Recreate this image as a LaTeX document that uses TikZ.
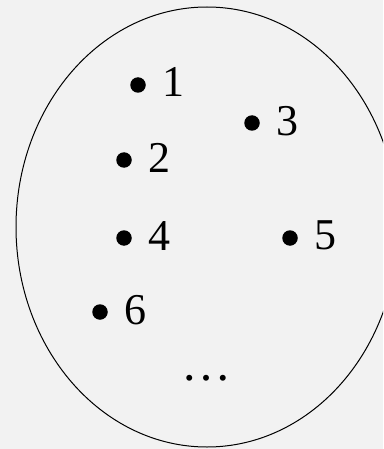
\documentclass[tikz,border=0pt]{standalone}
\usepackage{fontspec}
\setmainfont{Liberation Serif}
\definecolor{bg}{HTML}{F2F2F2}
\begin{document}
\begin{tikzpicture}[x=1pt,y=-1pt,
  lbl/.style={anchor=base west,inner sep=0pt,font=\fontsize{44}{44}\selectfont},
  pt/.style={circle,fill=black,inner sep=0pt,minimum size=15.5pt}]
\fill[bg] (0,0) rectangle (383,449);
\useasboundingbox (0,0) rectangle (383,449);
\begin{scope}
\clip (0,0) rectangle (383,449);
\draw[line width=1pt] (207,227) ellipse [x radius=191, y radius=220];
\end{scope}
\node[pt] (d1) at (138,85) {};
\node[lbl] (n1) at (162,97) {1};
\node[pt] (d2) at (124,160) {};
\node[lbl] (n2) at (148,172) {2};
\node[pt] (d3) at (252,123) {};
\node[lbl] (n3) at (276,136) {3};
\node[pt] (d4) at (124,238) {};
\node[lbl] (n4) at (148,250) {4};
\node[pt] (d5) at (290,238) {};
\node[lbl] (n5) at (314,249) {5};
\node[pt] (d6) at (100,312) {};
\node[lbl] (n6) at (124,324) {6};
\node[lbl,font=\fontsize{50}{50}\selectfont] (dots) at (181,380) {…};
\end{tikzpicture}
\end{document}
